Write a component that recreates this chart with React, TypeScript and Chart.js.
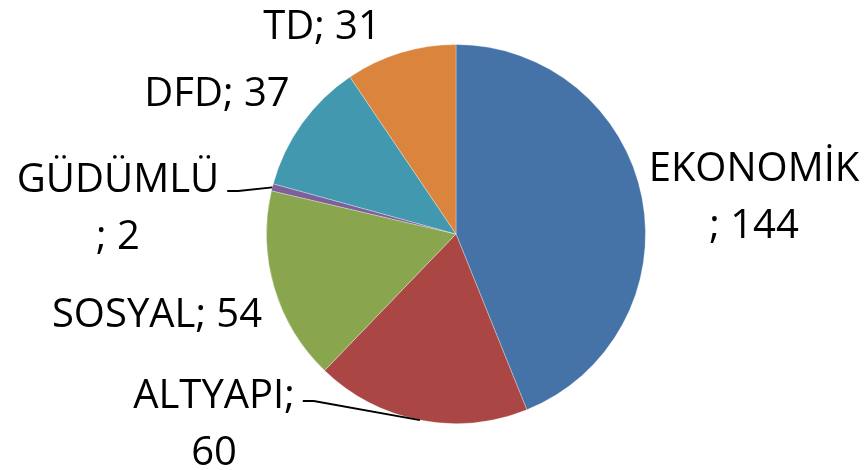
import { useEffect, useRef } from "react";
import { Chart, registerables } from "chart.js";

Chart.register(...registerables);

const categories = ["EKONOMİK", "ALTYAPI", "SOSYAL", "GÜDÜMLÜ", "DFD", "TD"];
const values = [144, 60, 54, 2, 37, 31];
const colors = ["#4572A7", "#AA4643", "#89A54E", "#7D5F9A", "#4198AF", "#DB843D"];

// label placement relative to the pie centre (text centre x, first baseline y)
type Layout = { dx: number; dy: number; wrap: "none" | "before" | "after"; leader?: boolean };
const labelLayout: Layout[] = [
  { dx: 298, dy: -53, wrap: "before" },
  { dx: -242, dy: 174, wrap: "after", leader: true },
  { dx: -299, dy: 93, wrap: "none" },
  { dx: -338, dy: -42, wrap: "before", leader: true },
  { dx: -239, dy: -128, wrap: "none" },
  { dx: -134, dy: -195, wrap: "none" },
];
const LINE_H = 57;
const FONT = '40px "Open Sans"';

function labelLines(i: number): string[] {
  const c = categories[i];
  const v = String(values[i]);
  const w = labelLayout[i].wrap;
  if (w === "before") return [c, "; " + v];
  if (w === "after") return [c + ";", v];
  return [c + "; " + v];
}

const labelPlugin = {
  id: "pieLabels",
  afterDraw(chart: any) {
    const ctx = chart.ctx as CanvasRenderingContext2D;
    const meta = chart.getDatasetMeta(0);
    ctx.save();
    ctx.font = FONT;
    ctx.fillStyle = "#000";
    ctx.textAlign = "center";
    ctx.textBaseline = "alphabetic";
    meta.data.forEach((arc: any, i: number) => {
      const p = arc.getProps(["x", "y", "startAngle", "endAngle", "outerRadius"], true);
      const lay = labelLayout[i];
      const lines = labelLines(i);
      const cx = p.x + lay.dx;
      const by = p.y + lay.dy;
      lines.forEach((t, k) => ctx.fillText(t, cx, by + k * LINE_H));
      if (lay.leader) {
        const mid = (p.startAngle + p.endAngle) / 2;
        const ex = p.x + Math.cos(mid) * p.outerRadius;
        const ey = p.y + Math.sin(mid) * p.outerRadius;
        const w = ctx.measureText(lines[0]).width;
        const sx = cx + w / 2 + 8;
        const sy = i === 1 ? by - 7 : by - 1;
        ctx.beginPath();
        ctx.strokeStyle = "#000";
        ctx.lineWidth = 1.8;
        ctx.moveTo(sx, sy);
        ctx.lineTo(sx + 11, sy);
        ctx.lineTo(ex, ey);
        ctx.stroke();
      }
    });
    ctx.restore();
  },
};

export default function App() {
  const ref = useRef<HTMLCanvasElement | null>(null);
  useEffect(() => {
    document.body.style.margin = "0";
    const chart = new Chart(ref.current!, {
      type: "pie",
      data: {
        labels: categories,
        datasets: [
          {
            data: values,
            backgroundColor: colors,
            borderColor: "rgba(255,255,255,0.3)",
            borderWidth: 1,
          },
        ],
      },
      options: {
        animation: false,
        responsive: false,
        layout: { padding: { left: 44, right: 0, top: 44, bottom: 46 } },
        plugins: { legend: { display: false }, tooltip: { enabled: false } },
      },
      plugins: [labelPlugin],
    });
    return () => chart.destroy();
  }, []);
  return (
    <div style={{ position: "absolute", left: 0, top: 0, width: 868, height: 470, background: "#fff" }}>
      <canvas ref={ref} width={868} height={470} />
    </div>
  );
}
